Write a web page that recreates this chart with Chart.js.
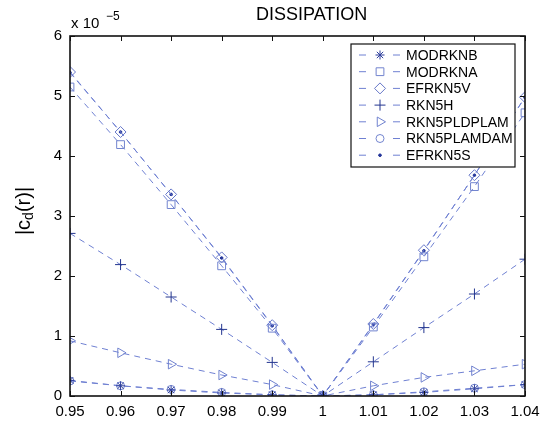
<!DOCTYPE html>
<html>
<head>
<meta charset="utf-8">
<script src="https://cdn.jsdelivr.net/npm/chart.js@4/dist/chart.umd.min.js"></script>
<style>
  html, body { margin: 0; padding: 0; background: #fff; }
  #wrap { width: 547px; height: 422px; position: relative; }
</style>
</head>
<body>
<div id="wrap"><canvas id="dissChart"></canvas></div>
<script>
// r values on the x axis
const rValues = [0.95, 0.96, 0.97, 0.98, 0.99, 1.00, 1.01, 1.02, 1.03, 1.04]

// |c_d(r)| in units of 1e-5
const modrknb     = [0.26, 0.17, 0.10, 0.05, 0.02, 0, 0.02, 0.06, 0.12, 0.19]
const modrkna     = [5.15, 4.19, 3.19, 2.17, 1.13, 0, 1.15, 2.32, 3.49, 4.72]
const efrkn5v     = [5.40, 4.40, 3.36, 2.31, 1.18, 0, 1.20, 2.43, 3.68, 4.98]
const rkn5h       = [2.71, 2.19, 1.65, 1.11, 0.56, 0, 0.57, 1.14, 1.70, 2.28]
const rkn5pldplam = [0.92, 0.72, 0.53, 0.35, 0.19, 0, 0.17, 0.31, 0.42, 0.53]
const rkn5plamdam = [0.25, 0.17, 0.11, 0.06, 0.02, 0, 0.02, 0.07, 0.13, 0.19]
const efrkn5s     = [5.39, 4.40, 3.36, 2.30, 1.17, 0, 1.19, 2.42, 3.68, 4.98]

const yTicks = [0, 1, 2, 3, 4, 5, 6]

const FONT = '"Liberation Sans", Arial, Helvetica, sans-serif'
const lineColor = '#6f80d2'

function series(label, values, style, color, radius, rotation) {
	return {
		label,
		data: values.map((v, i) => ({ x: rValues[i], y: v })),
		borderColor: lineColor,
		borderWidth: 1,
		borderDash: [6, 5],
		pointStyle: style,
		pointRadius: radius,
		pointRotation: rotation || 0,
		pointBorderColor: color,
		pointBackgroundColor: 'rgba(0,0,0,0)',
		pointBorderWidth: 1,
		fill: false,
		tension: 0,
	}
}

const datasets = [
	series('MODRKNB', modrknb, 'star', '#2e3f9c', 4.5),
	series('MODRKNA', modrkna, 'rect', '#7284cf', 5.5),
	series('EFRKN5V', efrkn5v, 'rectRot', '#6677c9', 5.5),
	series('RKN5H', rkn5h, 'cross', '#23358f', 5.5),
	series('RKN5PLDPLAM', rkn5pldplam, 'triangle', '#7082cf', 5.5, 90),
	series('RKN5PLAMDAM', rkn5plamdam, 'circle', '#7486d0', 4),
	series('EFRKN5S', efrkn5s, 'circle', '#26379a', 1.3),
]
datasets[6].pointBackgroundColor = '#26379a'

// matlab style box, inward ticks, title, exponent and y label
const matlabFrame = {
	id: 'matlabFrame',
	afterDraw(chart) {
		const ctx = chart.ctx
		const a = chart.chartArea
		const xs = chart.scales.x
		const ys = chart.scales.y
		ctx.save()
		ctx.strokeStyle = '#111'
		ctx.lineWidth = 1
		const tl = 5
		ctx.beginPath()
		xs.ticks.forEach(t => {
			const px = Math.round(xs.getPixelForValue(t.value)) + 0.5
			ctx.moveTo(px, a.bottom); ctx.lineTo(px, a.bottom - tl)
			ctx.moveTo(px, a.top); ctx.lineTo(px, a.top + tl)
		})
		ys.ticks.forEach(t => {
			const py = Math.round(ys.getPixelForValue(t.value)) + 0.5
			ctx.moveTo(a.left, py); ctx.lineTo(a.left + tl, py)
			ctx.moveTo(a.right, py); ctx.lineTo(a.right - tl, py)
		})
		ctx.stroke()
		ctx.lineWidth = 1.6
		ctx.strokeRect(a.left, a.top, a.right - a.left, a.bottom - a.top)

		// title
		ctx.fillStyle = '#000'
		ctx.font = '18px ' + FONT
		ctx.textAlign = 'left'
		ctx.textBaseline = 'alphabetic'
		ctx.fillText('DISSIPATION', 256, 20)

		// exponent
		ctx.font = '15px ' + FONT
		ctx.fillText('x 10', 71, 28)
		ctx.font = '12px ' + FONT
		ctx.fillText('\u22125', 106, 20)

		// y label |c_d(r)|
		ctx.textBaseline = 'middle'
		ctx.translate(24, 211)
		ctx.rotate(-Math.PI / 2)
		const p1 = '|c', sub = 'd', p2 = '(r)|'
		ctx.font = '20px ' + FONT
		const w1 = ctx.measureText(p1).width
		const w3 = ctx.measureText(p2).width
		ctx.font = '14px ' + FONT
		const w2 = ctx.measureText(sub).width
		let x0 = -(w1 + w2 + w3) / 2
		ctx.font = '20px ' + FONT
		ctx.fillText(p1, x0, 0)
		ctx.font = '14px ' + FONT
		ctx.fillText(sub, x0 + w1, 5)
		ctx.font = '20px ' + FONT
		ctx.fillText(p2, x0 + w1 + w2, 0)
		ctx.restore()
	}
}

// legend box drawn like matlab: dashed sample with marker in the middle
const matlabLegend = {
	id: 'matlabLegend',
	afterDraw(chart) {
		const ctx = chart.ctx
		const bx = 351, by = 44, bw = 164, bh = 123
		ctx.save()
		ctx.fillStyle = '#fff'
		ctx.fillRect(bx, by, bw, bh)
		ctx.strokeStyle = '#111'
		ctx.lineWidth = 1.2
		ctx.strokeRect(bx, by, bw, bh)
		ctx.font = '14px ' + FONT
		ctx.textBaseline = 'middle'
		ctx.textAlign = 'left'
		chart.data.datasets.forEach((ds, i) => {
			const y = by + 11 + i * 16.7
			ctx.strokeStyle = lineColor
			ctx.lineWidth = 1
			ctx.beginPath()
			ctx.moveTo(359, y); ctx.lineTo(366, y)
			ctx.moveTo(393, y); ctx.lineTo(400, y)
			ctx.stroke()
			ctx.strokeStyle = ds.pointBorderColor
			ctx.fillStyle = ds.pointBackgroundColor
			Chart.helpers.drawPoint(ctx, {
				pointStyle: ds.pointStyle,
				rotation: ds.pointRotation,
				radius: ds.pointRadius,
				borderWidth: 1,
			}, 380, y)
			if (ds.pointRadius < 2) ctx.fill()
			ctx.fillStyle = '#000'
			ctx.fillText(ds.label, 406, y + 1)
		})
		ctx.restore()
	}
}

const ctx = document.getElementById('dissChart').getContext('2d')

new Chart(ctx, {
	type: 'line',
	data: { datasets },
	options: {
		responsive: true,
		maintainAspectRatio: false,
		animation: false,
		layout: { padding: { left: 0, top: 36, right: 22, bottom: 0 } },
		plugins: {
			legend: { display: false },
			title: { display: false },
			tooltip: { enabled: false },
		},
		scales: {
			x: {
				type: 'linear',
				min: 0.95,
				max: 1.04,
				grid: { display: false, drawTicks: false },
				border: { display: false },
				afterBuildTicks: scale => {
					scale.ticks = rValues.map(v => ({ value: v }))
				},
				afterFit: scale => { scale.height = 26 },
				ticks: {
					padding: 7,
					color: '#000',
					font: { family: FONT, size: 15 },
					maxRotation: 0,
					callback: v => String(Number(v.toFixed(2))),
				},
			},
			y: {
				type: 'linear',
				min: 0,
				max: 6,
				grid: { display: false, drawTicks: false },
				border: { display: false },
				afterBuildTicks: scale => {
					scale.ticks = yTicks.map(v => ({ value: v }))
				},
				afterFit: scale => { scale.width = 70 },
				ticks: {
					padding: 8,
					color: '#000',
					font: { family: FONT, size: 15 },
					callback: v => String(v),
				},
			},
		},
	},
	plugins: [matlabFrame, matlabLegend],
})
</script>
</body>
</html>
